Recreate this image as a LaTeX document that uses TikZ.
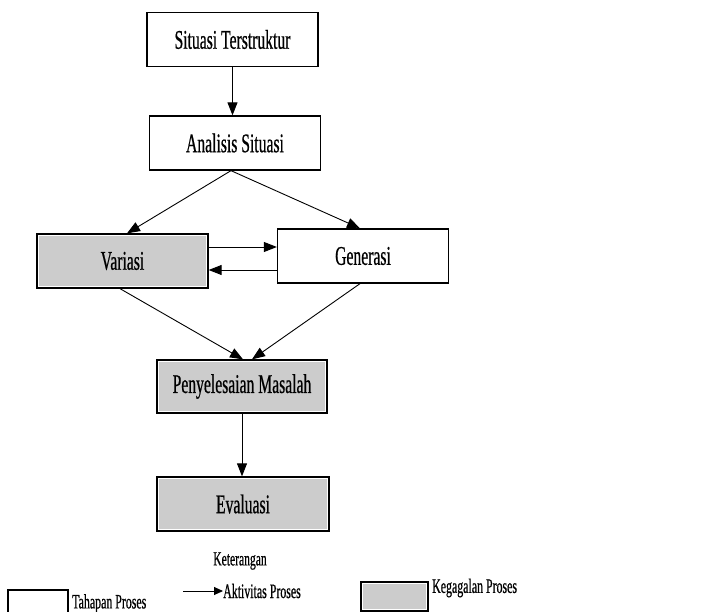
\documentclass[tikz,border=0pt]{standalone}
\usepackage{fontspec}
\setmainfont{Liberation Serif}[FakeStretch=0.58, FakeBold=0.6]
\usetikzlibrary{arrows.meta}
\definecolor{failgray}{HTML}{CCCCCC}
\tikzset{
  x=1pt, y=-1pt,
  stage/.style={draw=black, line width=1.3pt, fill=white, minimum width=171pt,
    minimum height=54pt, inner sep=0pt, font=\fontsize{27}{29}\selectfont},
  failstage/.style={stage,
    path picture={\fill[failgray]
      ([shift={(2pt,-2pt)}]path picture bounding box.north west) rectangle
      ([shift={(-2pt,2pt)}]path picture bounding box.south east);}},
  flow/.style={-{Triangle[length=13pt,width=10pt]}, line width=0.9pt},
  legendtext/.style={anchor=west, inner sep=0pt, font=\fontsize{20.5}{22}\selectfont},
}
\begin{document}
\begin{tikzpicture}
\useasboundingbox (0,0) rectangle (720,612);

% process stages
\node[stage] (situasi) at (232.5,39.5) {Situasi Terstruktur};
\node[stage] (analisis) at (235,143) {Analisis Situasi};
\node[failstage] (variasi) at (122.5,261) {Variasi};
\node[stage, minimum height=54pt] (generasi) at (363,256) {Generasi};
\node[failstage, minimum width=170pt, minimum height=53pt] (penyelesaian) at (242,386.5) {Penyelesaian Masalah};
\node[failstage, minimum width=172pt] (evaluasi) at (243,504) {Evaluasi};

% connections between stages
\draw[flow] (situasi.south) -- (analisis.north -| situasi.south);
\draw[flow] ([xshift=-4pt]analisis.south) -- ([xshift=4.5pt]variasi.north);
\draw[flow] ([xshift=-4pt]analisis.south) -- ([xshift=-3pt]generasi.north);
\draw[flow] ([yshift=14pt]variasi.east) -- ([yshift=14pt]variasi.east -| generasi.west);
\draw[flow] ([yshift=-14pt]generasi.west) -- ([yshift=-14pt]generasi.west -| variasi.east);
\draw[flow] ([xshift=-2.5pt]variasi.south) -- ([xshift=1pt]penyelesaian.north);
\draw[flow] ([xshift=-3pt]generasi.south) -- ([xshift=10pt]penyelesaian.north);
\draw[flow] (penyelesaian.south) -- (evaluasi.north -| penyelesaian.south);

% legend
\node[inner sep=0pt, font=\fontsize{20}{22}\selectfont] (keterangan) at (240,561) {Keterangan};
\node[draw=black, line width=1.2pt, fill=white, minimum width=60pt, minimum height=30pt,
  inner sep=0pt] (legstage) at (38,605) {};
\node[legendtext] (legstagetext) at (72,603.5) {Tahapan Proses};
\coordinate (legflowstart) at (183,591);
\node[legendtext] (legflowtext) at (223,591) {Aktivitas Proses};
\draw[flow, -{Triangle[length=9pt,width=8pt]}] (legflowstart) -- (legflowtext.west);
\node[draw=black, line width=1.3pt, minimum width=67pt, minimum height=29pt, inner sep=0pt,
  path picture={\fill[failgray]
    ([shift={(2pt,-2pt)}]path picture bounding box.north west) rectangle
    ([shift={(-2pt,2pt)}]path picture bounding box.south east);}] (legfail) at (394.5,596.5) {};
\node[legendtext] (legfailtext) at (432,588) {Kegagalan Proses};
\end{tikzpicture}
\end{document}
